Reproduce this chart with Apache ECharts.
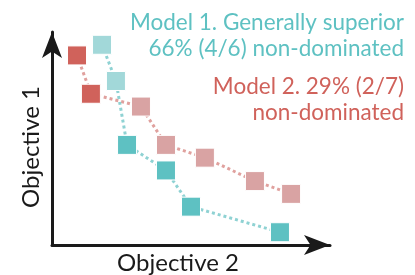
<!DOCTYPE html>
<html>
<head>
<meta charset="utf-8">
<script src="https://cdn.jsdelivr.net/npm/echarts@6/dist/echarts.min.js"></script>
<style>
html, body { margin: 0; padding: 0; background: #fff; }
#chart { width: 415px; height: 275px; }
</style>
</head>
<body>
<div id="chart"></div>
<script>
// data (arbitrary 0-100 units)
var model1X = [18, 23, 27, 41, 50, 82];
var model1Y = [94, 77, 47, 35, 18, 6];
var model1Dominated = [true, true, false, false, false, false];

var model2X = [9, 14, 32, 41, 55, 73, 86];
var model2Y = [89, 71, 65, 47, 41, 30, 24];
var model2Dominated = [false, false, true, true, true, true, true];

var labels = ['Model 1. Generally superior', '66% (4/6) non-dominated', 'Model 2. 29% (2/7)', 'non-dominated'];
var axisNames = ['Objective 2', 'Objective 1'];

var TEAL = '#5ec1c2', TEAL_LIGHT = '#a2d8d9', TEAL_LINE = '#8fd2d3';
var RED = '#d0625b', RED_LIGHT = '#d9a3a3', RED_LINE = '#e0a19e';
var FONT = 'Lato';

function points(xs, ys, dom, solid, light) {
    return xs.map(function (x, i) {
        return {
            value: [x, ys[i]],
            itemStyle: { color: dom[i] ? light : solid, borderColor: '#fff', borderWidth: 1 }
        };
    });
}

function modelSeries(name, data, lineColor) {
    return {
        name: name,
        type: 'line',
        data: data,
        symbol: 'rect',
        symbolSize: 19,
        showAllSymbol: true,
        lineStyle: { color: lineColor, width: 3, type: [3, 3] },
        animation: false
    };
}

function label(text, x, y, color, size, rot) {
    return {
        type: 'text', x: x, y: y, rotation: rot || 0,
        style: { text: text, fill: color, font: size + 'px ' + FONT, textAlign: rot ? 'center' : (color === '#1a1a1a' ? 'center' : 'right'), textVerticalAlign: 'middle' }
    };
}

var chart = echarts.init(document.getElementById('chart'));
chart.setOption({
    backgroundColor: '#fff',
    animation: false,
    grid: { left: 52, right: 85, top: 32, bottom: 30 },
    xAxis: {
        type: 'value', min: 0, max: 100,
        axisLine: { show: true, symbol: ['none', 'arrow'], symbolSize: [15, 26], lineStyle: { color: '#1a1a1a', width: 3 } },
        axisTick: { show: false }, axisLabel: { show: false }, splitLine: { show: false }
    },
    yAxis: {
        type: 'value', min: 0, max: 100,
        axisLine: { show: true, symbol: ['none', 'arrow'], symbolSize: [15, 26], lineStyle: { color: '#1a1a1a', width: 3 } },
        axisTick: { show: false }, axisLabel: { show: false }, splitLine: { show: false }
    },
    graphic: [
        label(labels[0], 404, 23, TEAL, 22.5),
        label(labels[1], 404, 49, TEAL, 22.5),
        label(labels[2], 404, 87, RED, 22.5),
        label(labels[3], 404, 113, RED, 22.5),
        label(axisNames[0], 178, 263, '#1a1a1a', 24),
        label(axisNames[1], 31, 147, '#1a1a1a', 24, Math.PI / 2)
    ],
    series: [
        modelSeries('Model 2', points(model2X, model2Y, model2Dominated, RED, RED_LIGHT), RED_LINE),
        modelSeries('Model 1', points(model1X, model1Y, model1Dominated, TEAL, TEAL_LIGHT), TEAL_LINE)
    ]
});
</script>
</body>
</html>
